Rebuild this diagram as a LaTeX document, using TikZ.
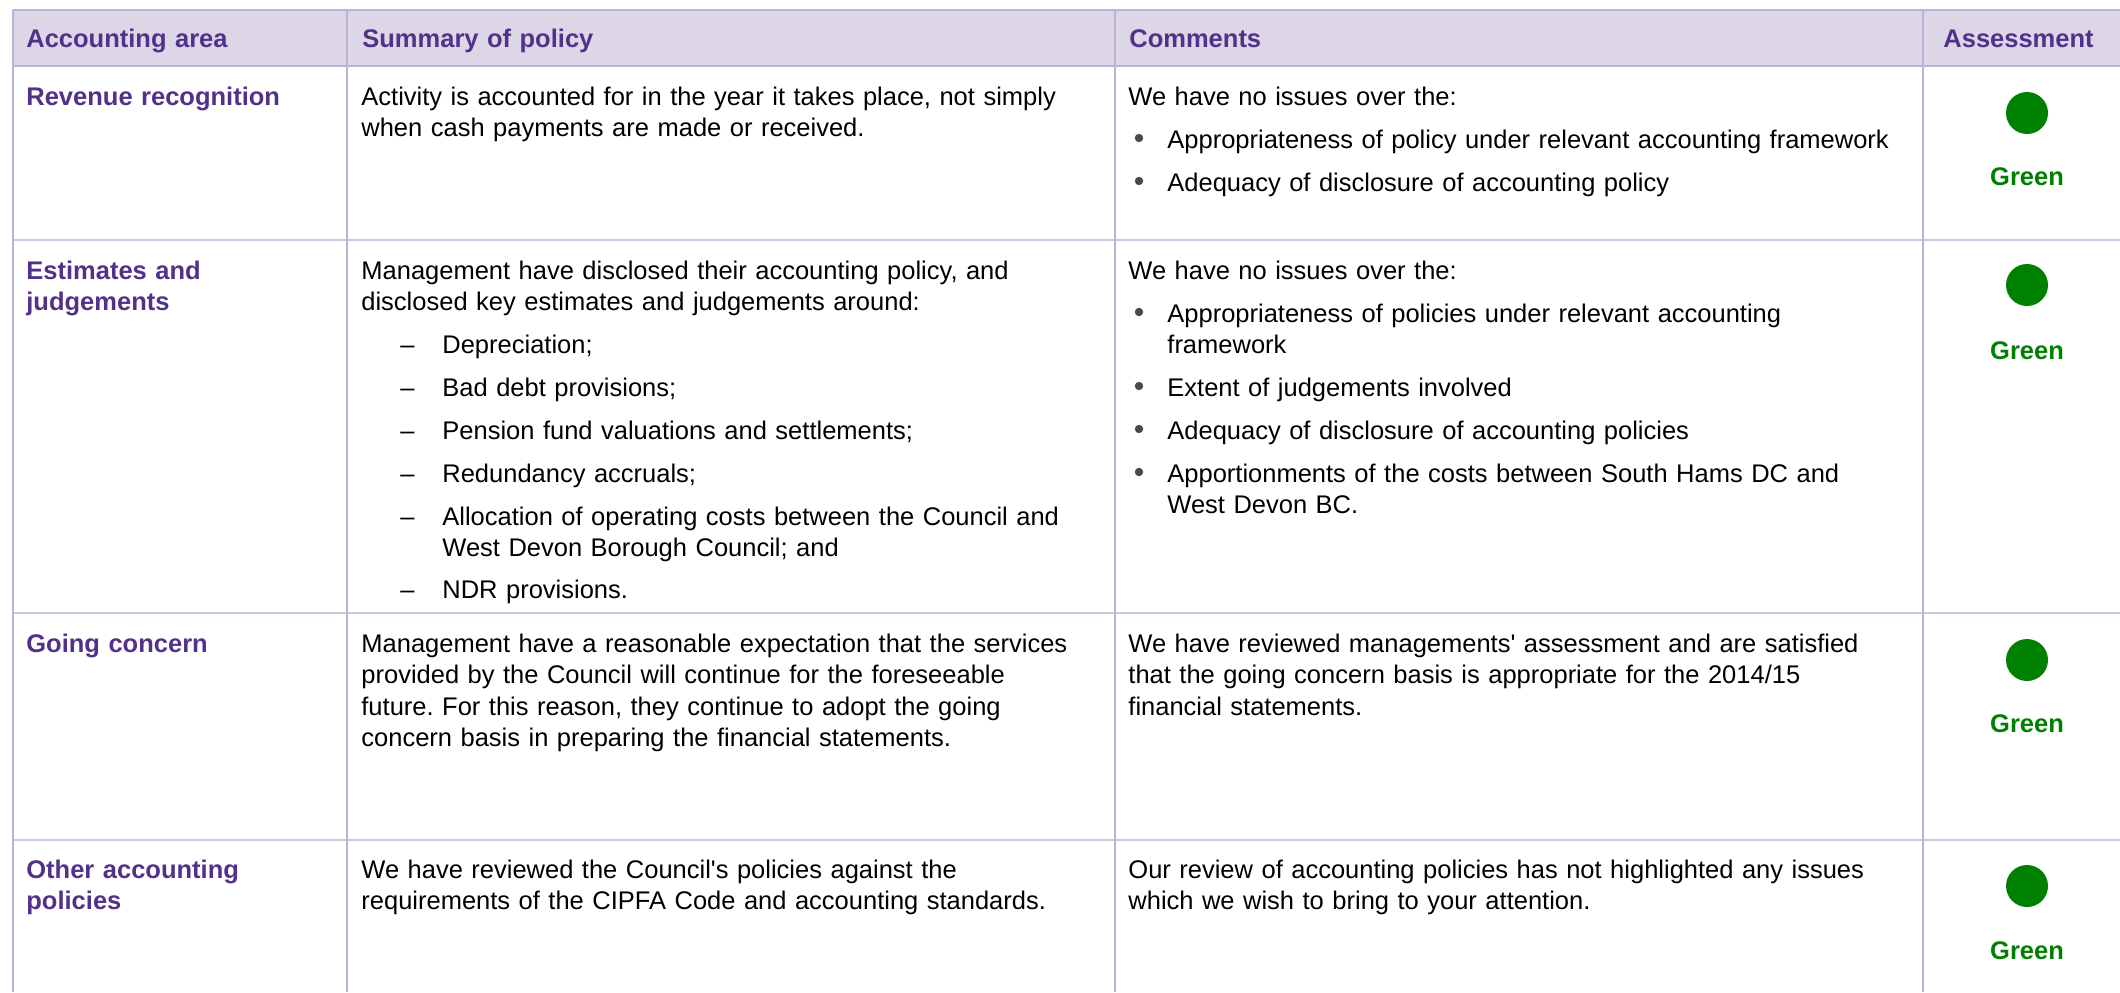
\documentclass[tikz,border=0pt]{standalone}
\usepackage{fontspec}
\setmainfont{Liberation Sans}[Ligatures=TeXOff]
\frenchspacing
\definecolor{gtpurple}{HTML}{52318A}
\definecolor{hdrfill}{HTML}{DCD6E7}
\definecolor{vline}{HTML}{BFB2D6}
\definecolor{hline}{HTML}{CFC6E0}
\definecolor{ragreen}{HTML}{008000}
\definecolor{bulletgray}{HTML}{4A4A4A}
\begin{document}
\begin{tikzpicture}[x=0.5pt, y=-0.5pt,
  cell/.style={inner sep=0pt, anchor=base west, text width=520pt, align=left,
    font=\fontsize{12.75pt}{15.75pt}\selectfont},
  body/.style={cell, text=black},
  head/.style={cell, text=gtpurple, font=\bfseries\fontsize{12.75pt}{15.75pt}\selectfont},
  grn/.style={inner sep=0pt, anchor=base, text=ragreen, font=\bfseries\fontsize{12.75pt}{15.75pt}\selectfont},
  ragdot/.style={fill=ragreen},
  bul/.style={fill=bulletgray},
  vrule/.style={draw=vline, line width=1pt},
  hrule/.style={draw=hline, line width=1pt}]
\useasboundingbox (0,0) rectangle (2120,992);
\fill[white] (0,0) rectangle (2120,992);
% header band
\fill[hdrfill] (13,10) rectangle (2120,66);
% horizontal rules
\draw[vrule] (13,10) -- (2120,10);
\draw[vrule] (13,66) -- (2120,66);
\draw[hrule] (13,240) -- (2120,240);
\draw[hrule] (13,613) -- (2120,613);
\draw[hrule] (13,840) -- (2120,840);
% vertical rules
\draw[vrule] (13,10) -- (13,992);
\draw[vrule] (347,10) -- (347,992);
\draw[vrule] (1115,10) -- (1115,992);
\draw[vrule] (1923,10) -- (1923,992);

% header
\node[head] (h1) at (26,47) {Accounting area};
\node[head] (h2) at (362,47) {Summary of policy};
\node[head] (h3) at (1129,47) {Comments};
\node[head] (h4) at (1943,47) {Assessment};

% ---------- Row 1
\node[head] (a1) at (26,105) {Revenue recognition};
\node[body] (s1) at (361,105) {Activity is accounted for in the year it takes place, not simply\\when cash payments are made or received.};
\node[body] (c1) at (1128,105) {We have no issues over the:};
\fill[bul] (1139,138) circle (2.1pt);
\node[body] (c1a) at (1167,148) {Appropriateness of policy under relevant accounting framework};
\fill[bul] (1139,181) circle (2.1pt);
\node[body] (c1b) at (1167,191) {Adequacy of disclosure of accounting policy};
\fill[ragdot] (2027,113) circle (10.5pt);
\node[grn] (g1) at (2027,185) {Green};

% ---------- Row 2
\node[head] (a2) at (26,279) {Estimates and\\judgements};
\node[body] (s2) at (361,279) {Management have disclosed their accounting policy, and\\disclosed key estimates and judgements around:};
\node[body] (s2d1) at (400,353) {–};
\node[body] (s2a) at (442,353) {Depreciation;};
\node[body] (s2d2) at (400,396) {–};
\node[body] (s2b) at (442,396) {Bad debt provisions;};
\node[body] (s2d3) at (400,439) {–};
\node[body] (s2c) at (442,439) {Pension fund valuations and settlements;};
\node[body] (s2d4) at (400,482) {–};
\node[body] (s2e) at (442,482) {Redundancy accruals;};
\node[body] (s2d5) at (400,525) {–};
\node[body] (s2f) at (442,525) {Allocation of operating costs between the Council and\\West Devon Borough Council; and};
\node[body] (s2d6) at (400,598) {–};
\node[body] (s2g) at (442,598) {NDR provisions.};

\node[body] (c2) at (1128,279) {We have no issues over the:};
\fill[bul] (1139,312) circle (2.1pt);
\node[body] (c2a) at (1167,322) {Appropriateness of policies under relevant accounting\\framework};
\fill[bul] (1139,386) circle (2.1pt);
\node[body] (c2b) at (1167,396) {Extent of judgements involved};
\fill[bul] (1139,429) circle (2.1pt);
\node[body] (c2c) at (1167,439) {Adequacy of disclosure of accounting policies};
\fill[bul] (1139,472) circle (2.1pt);
\node[body] (c2d) at (1167,482) {Apportionments of the costs between South Hams DC and\\West Devon BC.};
\fill[ragdot] (2027,285) circle (10.5pt);
\node[grn] (g2) at (2027,359) {Green};

% ---------- Row 3
\node[head] (a3) at (26,652) {Going concern};
\node[body] (s3) at (361,652) {Management have a reasonable expectation that the services\\provided by the Council will continue for the foreseeable\\future. For this reason, they continue to adopt the going\\concern basis in preparing the financial statements.};
\node[body] (c3) at (1128,652) {We have reviewed managements' assessment and are satisfied\\that the going concern basis is appropriate for the 2014/15\\financial statements.};
\fill[ragdot] (2027,660) circle (10.5pt);
\node[grn] (g3) at (2027,732) {Green};

% ---------- Row 4
\node[head] (a4) at (26,878) {Other accounting\\policies};
\node[body] (s4) at (361,878) {We have reviewed the Council's policies against the\\requirements of the CIPFA Code and accounting standards.};
\node[body] (c4) at (1128,878) {Our review of accounting policies has not highlighted any issues\\which we wish to bring to your attention.};
\fill[ragdot] (2027,886) circle (10.5pt);
\node[grn] (g4) at (2027,959) {Green};
\end{tikzpicture}
\end{document}
